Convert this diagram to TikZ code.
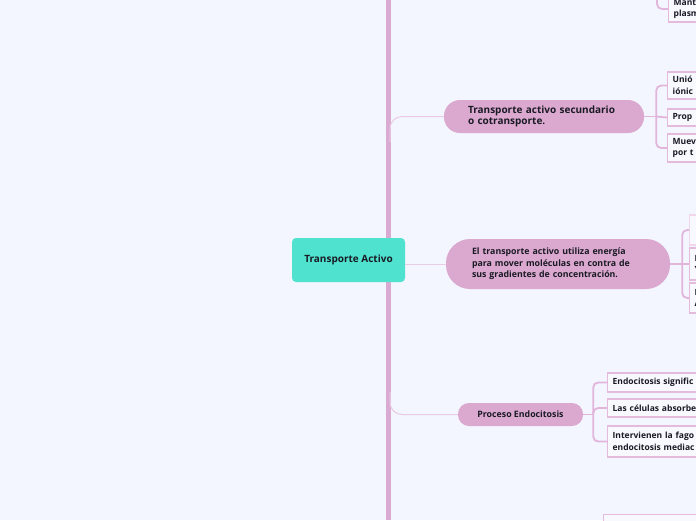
\documentclass[tikz,border=0pt]{standalone}
\usepackage{fontspec}
\setmainfont{Open Sans}
\definecolor{bgcol}{HTML}{F3F5FF}
\definecolor{trunkcol}{HTML}{D9AAD2}
\definecolor{pillcol}{HTML}{DBA9D0}
\definecolor{linkcol}{HTML}{EACBE5}
\definecolor{brkcol}{HTML}{E2B5DB}
\definecolor{boxdraw}{HTML}{E4BADD}
\definecolor{boxfill}{HTML}{F8F8FF}
\definecolor{tealcol}{HTML}{4FE3CF}
\definecolor{inkcol}{HTML}{1A1A24}
\tikzset{
  pill/.style={fill=pillcol, text=inkcol, align=left, inner sep=0pt,
    font=\fontsize{8.8}{11.6}\selectfont\bfseries},
  leaf/.style={draw=boxdraw, line width=1.3pt, fill=boxfill, text=inkcol,
    anchor=west, minimum width=160, text width=150, inner xsep=5,
    align=left, font=\fontsize{8.5}{11.5}\selectfont\bfseries},
  link/.style={draw=linkcol, line width=1pt},
  brk/.style={draw=brkcol, line width=1.8pt, rounded corners=5},
  trunk/.style={draw=trunkcol, line width=5pt},
}
\begin{document}
\begin{tikzpicture}[x=1pt,y=-1pt]
  \path[fill=bgcol, use as bounding box] (0,0) rectangle (696,520);
  \clip (0,0) rectangle (696,520);

  % trunk
  \coordinate (ttop) at (388,0);
  \coordinate (tbot) at (388,520);
  \draw[trunk] (ttop) -- (tbot);

  % central topic
  \node[fill=tealcol, rounded corners=4, minimum width=113, minimum height=44,
    text=inkcol, font=\fontsize{10}{12}\selectfont\bfseries] (core) at (348.5,260) {Transporte Activo};

  % main branches
  \node[pill, rounded corners=16, minimum width=200, minimum height=33, text width=152,
    font=\fontsize{10}{11.5}\selectfont\bfseries]
    (sec) at (544,116.5) {Transporte activo secundario\\o cotransporte.};
  \node[pill, rounded corners=24, minimum width=224, minimum height=50, text width=172]
    (def) at (558,264) {El transporte activo utiliza energía\\para mover moléculas en contra de\\sus gradientes de concentración.};
  \node[pill, rounded corners=11, minimum width=125, minimum height=23, align=center]
    (endo) at (520.5,414.5) {Proceso Endocitosis};

  \coordinate (b1) at (390,142);
  \coordinate (b3) at (390,392);
  \draw[link, rounded corners=12] (b1) |- (sec.west);
  \draw[link] (core.east |- def.west) -- (def.west);
  \draw[link, rounded corners=12] (b3) |- (endo.west);

  % leaves, upper branch (off the top)
  \node[leaf, minimum height=26] (mant) at (668,9) {Mant\\plasm};
  \coordinate (jtop) at (657,-20);
  \draw[brk] (jtop) |- (mant.west);

  % leaves of secondary transport
  \node[leaf, minimum height=27] (s1) at (667,85.5) {Unió\\iónic};
  \node[leaf, minimum height=17] (s2) at (667,117.5) {Prop};
  \node[leaf, minimum height=28] (s3) at (667,148) {Muev\\por t};
  \draw[brk] (sec.east) -- ++(12,0) coordinate (js);
  \draw[brk] (js) |- (s1.west);
  \draw[brk] (js) -- (s2.west);
  \draw[brk] (js) |- (s3.west);

  % leaves of the definition
  \node[leaf, draw=boxdraw!60, minimum height=30] (d1) at (689,230) {};
  \node[leaf, minimum height=32] (d2) at (689,264) {E\\Y};
  \node[leaf, minimum height=30] (d3) at (689,298) {L\\A};
  \draw[brk] (def.east) -- ++(12,0) coordinate (jd);
  \draw[brk] (jd) |- (d1.west);
  \draw[brk] (jd) -- (d2.west);
  \draw[brk] (jd) |- (d3.west);

  % leaves of endocytosis
  \node[leaf, minimum height=19] (e1) at (607,382.5) {Endocitosis signific};
  \node[leaf, minimum height=18] (e2) at (607,408) {Las células absorbe};
  \node[leaf, minimum height=31] (e3) at (607,441.5) {Intervienen la fago\\endocitosis mediac};
  \draw[brk] (endo.east) -- ++(10,0) coordinate (je);
  \draw[brk] (je) |- (e1.west);
  \draw[brk] (je) |- (e2.west);
  \draw[brk] (je) |- (e3.west);

  % leaf of the next branch (off the bottom)
  \node[leaf, anchor=north west, minimum height=30] (low) at (603,514) {};
\end{tikzpicture}
\end{document}
